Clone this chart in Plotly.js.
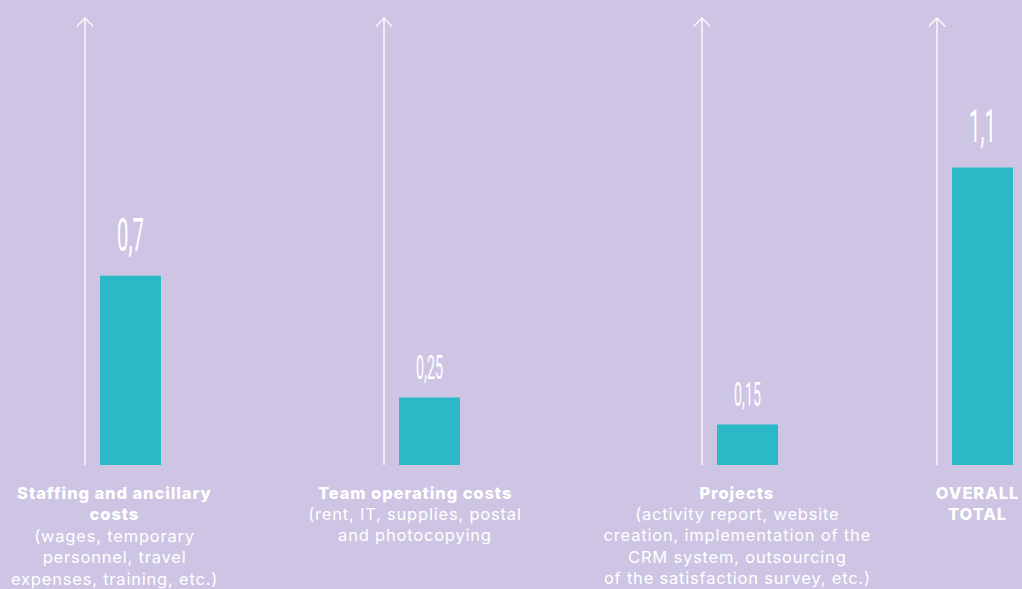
<!DOCTYPE html>
<html>
<head>
<meta charset="utf-8">
<script src="https://cdn.plot.ly/plotly-3.0.1.min.js"></script>
<style>
  html, body { margin: 0; padding: 0; background: #cdc5e3; }
  #chart { width: 1022px; height: 589px; }
</style>
</head>
<body>
<div id="chart"></div>
<script>
// ---- data ----
const categories = ["Staffing and ancillary costs", "Team operating costs", "Projects", "OVERALL TOTAL"];
const values = [0.7, 0.25, 0.15, 1.1];
const titles = ["Staffing and ancillary<br>costs", "Team operating costs", "Projects", "OVERALL<br>TOTAL"];
const details = [
  "(wages, temporary<br>personnel, travel<br>expenses, training, etc.)",
  "(rent, IT, supplies, postal<br>and photocopying",
  "(activity report, website<br>creation, implementation of the<br>CRM system, outsourcing<br>of the satisfaction survey, etc.)",
  ""
];

// ---- layout constants (pixels) ----
const W = 1022, H = 589, BOTTOM = 465;
const slotCenters = [130.5, 429.5, 747.5, 982.5];
const labelCenters = [114.5, 414.5, 737, 977.5];
const SLOT = 78, BAR = 61;
const FS = 16.5, LH = FS * 1.3;
const px = p => p / W;
const py = p => (BOTTOM - p) / BOTTOM;

const traces = categories.map((c, i) => ({
  type: 'bar',
  x: [c],
  y: [values[i]],
  xaxis: i === 0 ? 'x' : 'x' + (i + 1),
  yaxis: 'y',
  marker: { color: '#2bb9c7' },
  text: [String(values[i]).replace('.', ',')],
  textposition: 'outside',
  textfont: { family: 'Roboto', size: 50, weight: 400, color: '#ffffff' },
  cliponaxis: false,
  hoverinfo: 'skip'
}));

const layout = {
  width: W, height: H,
  margin: { l: 0, r: 0, t: 0, b: H - BOTTOM, pad: 0 },
  paper_bgcolor: '#cdc5e3',
  plot_bgcolor: 'rgba(0,0,0,0)',
  showlegend: false,
  bargap: 1 - BAR / SLOT,
  yaxis: { range: [0, 1.72], visible: false, showgrid: false, zeroline: false, fixedrange: true },
  shapes: [],
  annotations: []
};

slotCenters.forEach((c, i) => {
  const key = i === 0 ? 'xaxis' : 'xaxis' + (i + 1);
  layout[key] = {
    type: 'category',
    domain: [px(c - SLOT / 2), px(c + SLOT / 2)],
    range: [-0.5, 0.5],
    anchor: 'y',
    visible: false, showgrid: false, zeroline: false, fixedrange: true
  };
  const lx = c - BAR / 2 - 15;
  layout.shapes.push({
    type: 'line', xref: 'paper', yref: 'paper',
    x0: px(lx), x1: px(lx), y0: 0, y1: py(18),
    line: { color: 'rgba(255,255,255,0.9)', width: 1.5 }
  });
  layout.shapes.push({
    type: 'path', xref: 'paper', yref: 'paper',
    path: `M${px(lx - 8.3)},${py(26.5)} L${px(lx)},${py(18)} L${px(lx + 8.3)},${py(26.5)}`,
    line: { color: 'rgba(255,255,255,0.9)', width: 1.5 }
  });
  const top = 482;
  layout.annotations.push({
    xref: 'paper', yref: 'paper',
    x: px(labelCenters[i]), y: py(top),
    xanchor: 'center', yanchor: 'top',
    align: 'center', showarrow: false, borderpad: 0,
    text: titles[i],
    font: { family: 'Inter', size: FS, weight: 800, color: '#ffffff' }
  });
  if (details[i]) {
    const nTitle = titles[i].split('<br>').length;
    layout.annotations.push({
      xref: 'paper', yref: 'paper',
      x: px(labelCenters[i]), y: py(top + nTitle * LH),
      xanchor: 'center', yanchor: 'top',
      align: 'center', showarrow: false, borderpad: 0,
      text: details[i],
      font: { family: 'Inter', size: FS, weight: 400, color: '#ffffff' }
    });
  }
});

Plotly.newPlot('chart', traces, layout, { displayModeBar: false, staticPlot: true }).then(() => {
  // condense the value labels horizontally (the original uses an ultra-condensed face)
  document.querySelectorAll('#chart text.bartext').forEach(t => {
    const b = t.getBBox();
    const cx = b.x + b.width / 2;
    const cy = b.y + b.height;
    const prev = t.getAttribute('transform') || '';
    t.setAttribute('transform', prev + ` translate(0,-12) translate(${cx},${cy}) scale(0.44,1) translate(${-cx},${-cy})`);
  });
  // the original face is wider: open up the letter spacing of the category labels
  document.querySelectorAll('#chart text.annotation-text').forEach(t => {
    const bold = (t.style.fontWeight || '').toString() === '800' || t.getAttribute('style').includes('800');
    t.style.letterSpacing = bold ? '0.9px' : '0.8px';
  });
});
</script>
</body>
</html>
